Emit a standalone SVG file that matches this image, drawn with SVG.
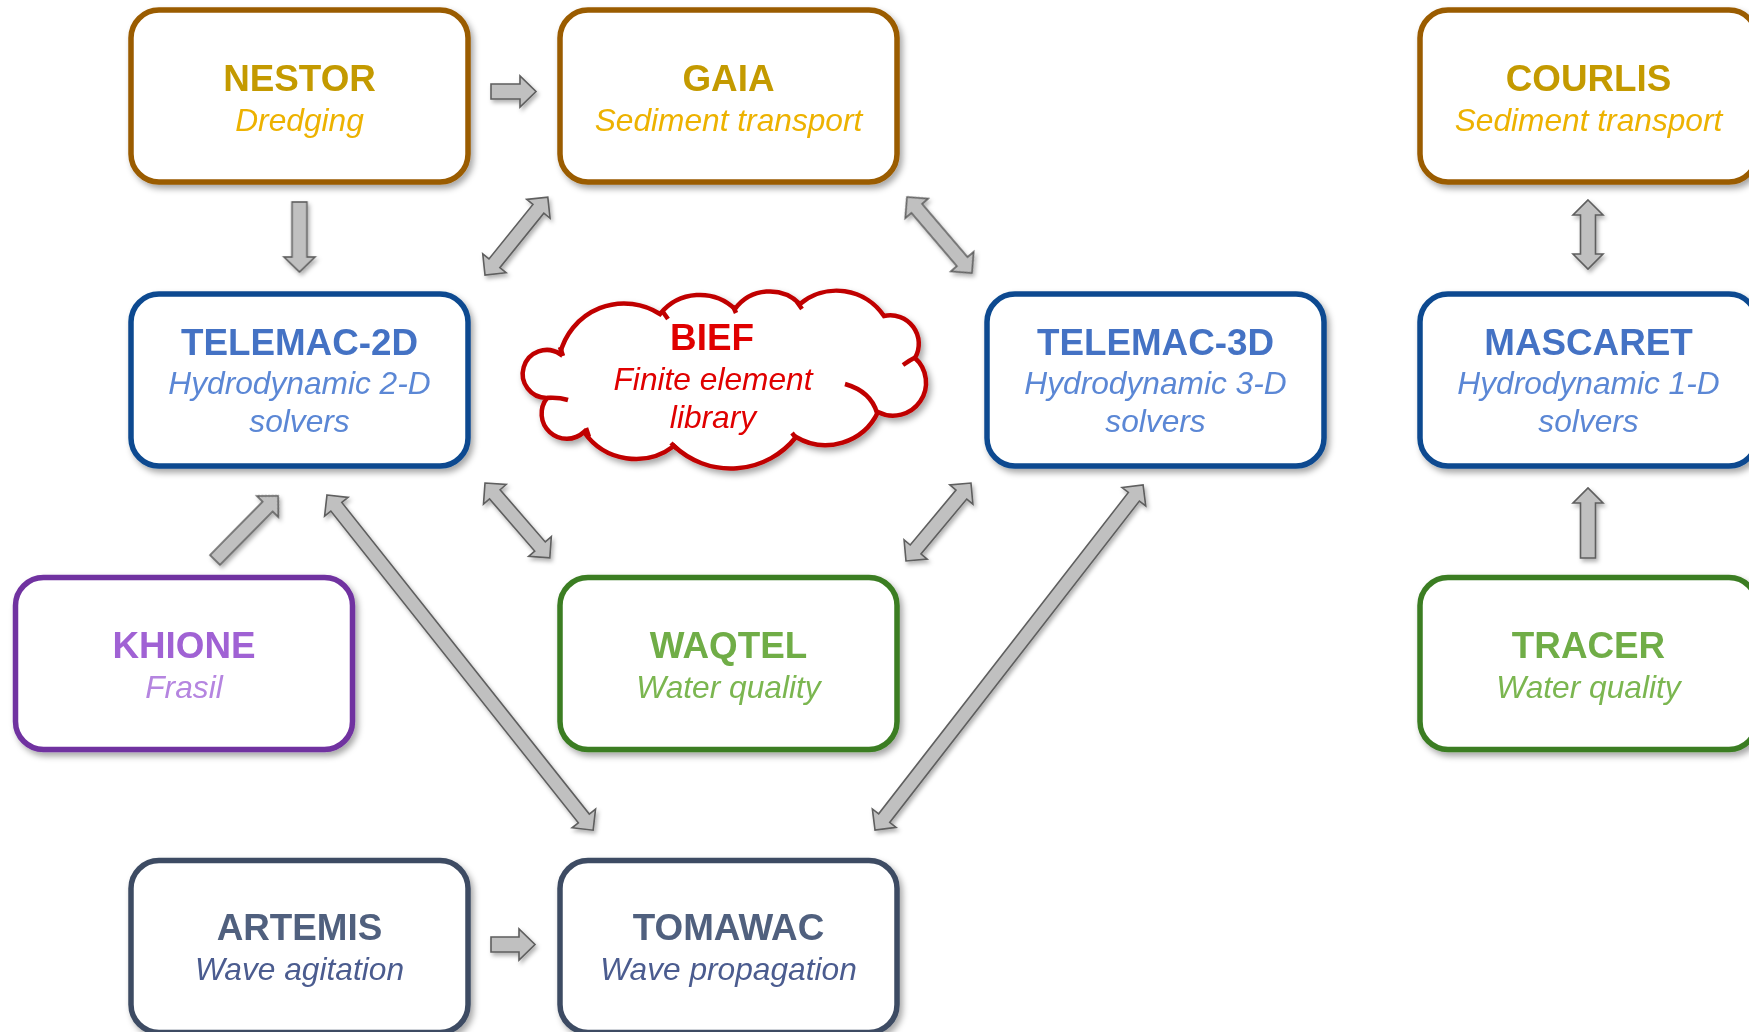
<svg xmlns="http://www.w3.org/2000/svg" width="1749" height="1032" viewBox="0 0 1749 1032">
<defs>
<filter id="sh" x="-10%" y="-10%" width="130%" height="130%">
<feDropShadow dx="3" dy="4" stdDeviation="3" flood-color="#000" flood-opacity="0.35"/>
</filter>
<filter id="ash" x="-10%" y="-10%" width="130%" height="130%">
<feDropShadow dx="2" dy="3" stdDeviation="2" flood-color="#000" flood-opacity="0.3"/>
</filter>
<style>
.box{fill:#fff;stroke-width:5.5;filter:url(#sh)}
.brown{stroke:#9A5B00}.blue{stroke:#0B4A90}.purple{stroke:#7030A0}.green{stroke:#3B7D23}.slate{stroke:#3E4C63}
.t{font-family:"Liberation Sans",Arial,sans-serif;font-weight:bold;font-size:36.8px;text-anchor:middle}
.s{font-family:"Liberation Sans",Arial,sans-serif;font-style:italic;font-size:31.7px;text-anchor:middle}
.gt{fill:#C49A00}.gs{fill:#EDB200}
.bt{fill:#4472C4}.bs{fill:#5B87D5}
.pt{fill:#A062D4}.ps{fill:#B585E0}
.nt{fill:#70AD47}.ns{fill:#7BB650}
.st{fill:#50607E}.ss{fill:#4B5C8F}
.rt{fill:#E00000}
.arr{fill:#C0C0C0;stroke:#5E5E5E;stroke-width:1.6}
.cloud{fill:#fff;stroke:#C00000;stroke-width:4.5;filter:url(#sh)}
.tick{fill:none;stroke:#C00000;stroke-width:4.5}
</style>
</defs>
<rect width="1749" height="1032" fill="#fff"/>

<g id="connectors" filter="url(#ash)">
<path class="arr" transform="translate(491,91.5)" d="M0,-7.5 L29,-7.5 L29,-15.5 L45,0 L29,15.5 L29,7.5 L0,7.5 Z"/>
<path class="arr" transform="translate(491,944.5)" d="M0,-7.5 L28,-7.5 L28,-15.5 L44,0 L28,15.5 L28,7.5 L0,7.5 Z"/>
<path class="arr" transform="translate(299.5,202) rotate(90)" d="M0,-7.5 L55,-7.5 L55,-15.5 L70,0 L55,15.5 L55,7.5 L0,7.5 Z"/>
<path class="arr" transform="translate(1588,558) rotate(-90)" d="M0,-7.5 L55,-7.5 L55,-15 L70,0 L55,15 L55,7.5 L0,7.5 Z"/>
<path class="arr" transform="translate(1588,200) rotate(90)" d="M0,0 L15,-15 L15,-7.5 L54,-7.5 L54,-15 L69,0 L54,15 L54,7.5 L15,7.5 L15,15 Z"/>
<path class="arr" transform="translate(485,275) rotate(-51.1)" d="M0,0 L15,-15 L15,-7 L85,-7 L85,-15 L100,0 L85,15 L85,7 L15,7 L15,15 Z"/>
<path class="arr" transform="translate(907,197) rotate(49.5)" d="M0,0 L15,-15 L15,-7 L85,-7 L85,-15 L100,0 L85,15 L85,7 L15,7 L15,15 Z"/>
<path class="arr" transform="translate(485,483) rotate(49.1)" d="M0,0 L15,-15 L15,-7 L84,-7 L84,-15 L99,0 L84,15 L84,7 L15,7 L15,15 Z"/>
<path class="arr" transform="translate(906,561) rotate(-50.2)" d="M0,0 L15,-15 L15,-7 L86.5,-7 L86.5,-15 L101.5,0 L86.5,15 L86.5,7 L15,7 L15,15 Z"/>
<path class="arr" transform="translate(327,495) rotate(51.55)" d="M0,0 L15,-15 L15,-7 L413,-7 L413,-15 L428,0 L413,15 L413,7 L15,7 L15,15 Z"/>
<path class="arr" transform="translate(875,830) rotate(-52.16)" d="M0,0 L15,-15 L15,-7 L422,-7 L422,-15 L437,0 L422,15 L422,7 L15,7 L15,15 Z"/>
<path class="arr" transform="translate(215,560) rotate(-45.45)" d="M0,-7 L75,-7 L75,-15 L90,0 L75,15 L75,7 L0,7 Z"/>
</g>

<g id="nestor">
<rect class="box brown" x="131" y="10" width="337" height="172" rx="28"/>
<text class="t gt" x="299.5" y="90.5">NESTOR</text>
<text class="s gs" x="299.5" y="130.5">Dredging</text>
</g>
<g id="gaia">
<rect class="box brown" x="560" y="10" width="337" height="172" rx="28"/>
<text class="t gt" x="728.5" y="90.5">GAIA</text>
<text class="s gs" x="728.5" y="130.5">Sediment transport</text>
</g>
<g id="courlis">
<rect class="box brown" x="1420" y="10" width="337" height="172" rx="28"/>
<text class="t gt" x="1588.5" y="90.5">COURLIS</text>
<text class="s gs" x="1588.5" y="130.5">Sediment transport</text>
</g>

<g id="telemac2d">
<rect class="box blue" x="131" y="294" width="337" height="172" rx="28"/>
<text class="t bt" x="299.5" y="355">TELEMAC-2D</text>
<text class="s bs" x="299.5" y="394">Hydrodynamic 2-D</text>
<text class="s bs" x="299.5" y="432">solvers</text>
</g>
<g id="telemac3d">
<rect class="box blue" x="987" y="294" width="337" height="172" rx="28"/>
<text class="t bt" x="1155.5" y="355">TELEMAC-3D</text>
<text class="s bs" x="1155.5" y="394">Hydrodynamic 3-D</text>
<text class="s bs" x="1155.5" y="432">solvers</text>
</g>
<g id="mascaret">
<rect class="box blue" x="1420" y="294" width="337" height="172" rx="28"/>
<text class="t bt" x="1588.5" y="355">MASCARET</text>
<text class="s bs" x="1588.5" y="394">Hydrodynamic 1-D</text>
<text class="s bs" x="1588.5" y="432">solvers</text>
</g>

<g id="bief">
<path class="cloud" d="M560,354 A66,66 0 0,1 660,314 A51,51 0 0,1 735,309 A43,43 0 0,1 800,304 A57,57 0 0,1 884,316 A28.5,28.5 0 0,1 915,358 A33,33 0 0,1 878,412 A58,58 0 0,1 796,437 A83,83 0 0,1 674,446 A63,63 0 0,1 584,432 A25.2,25.2 0 0,1 547,398 A24,24 0 1,1 560,354 Z"/>
<path class="tick" d="M845,384 Q871,391.5 877,413 M903,365 Q910,360 916,357 M547,398 Q558,397 568,400 M560,347 L563,356 M663,312 L668,319 M733,306 L736,313 M797,302 L802,309 M792,433 L797,439 M671,443 L677,449 M586,428 L589,437"/>
<text class="t rt" x="712" y="350">BIEF</text>
<text class="s rt" x="713" y="390">Finite element</text>
<text class="s rt" x="713" y="428">library</text>
</g>

<g id="khione">
<rect class="box purple" x="15.5" y="577.5" width="337" height="172" rx="28"/>
<text class="t pt" x="184" y="658">KHIONE</text>
<text class="s ps" x="184" y="698">Frasil</text>
</g>
<g id="waqtel">
<rect class="box green" x="560" y="577.5" width="337" height="172" rx="28"/>
<text class="t nt" x="728.5" y="658">WAQTEL</text>
<text class="s ns" x="728.5" y="698">Water quality</text>
</g>
<g id="tracer">
<rect class="box green" x="1420" y="577.5" width="337" height="172" rx="28"/>
<text class="t nt" x="1588.5" y="658">TRACER</text>
<text class="s ns" x="1588.5" y="698">Water quality</text>
</g>

<g id="artemis">
<rect class="box slate" x="131" y="860.5" width="337" height="172" rx="28"/>
<text class="t st" x="299.5" y="940">ARTEMIS</text>
<text class="s ss" x="299.5" y="979.5">Wave agitation</text>
</g>
<g id="tomawac">
<rect class="box slate" x="560" y="860.5" width="337" height="172" rx="28"/>
<text class="t st" x="728.5" y="940">TOMAWAC</text>
<text class="s ss" x="728.5" y="979.5">Wave propagation</text>
</g>
</svg>
